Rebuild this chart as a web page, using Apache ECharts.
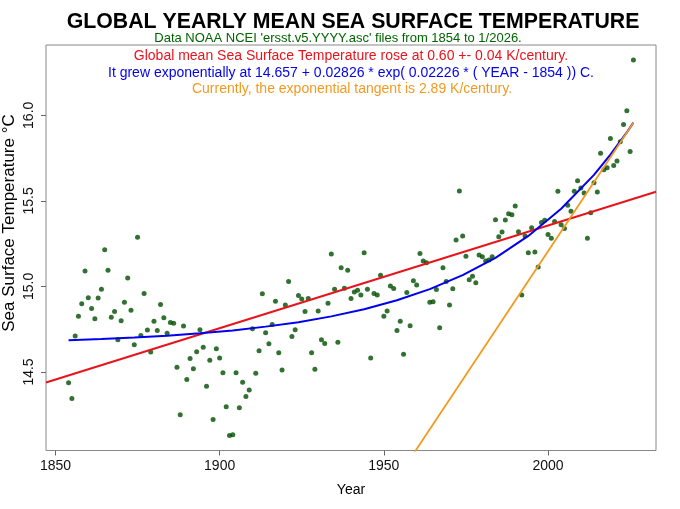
<!DOCTYPE html>
<html>
<head>
<meta charset="utf-8">
<script src="https://cdn.jsdelivr.net/npm/echarts@6/dist/echarts.min.js"></script>
<style>
  html, body { margin: 0; padding: 0; background: #fff; }
  #chart { width: 680px; height: 509px; }
</style>
</head>
<body>
<div id="chart"></div>
<script>
// yearly mean SST, first point is 1854
const firstYear = 1854;
const sst1854 = [14.437, 14.345, 14.710, 14.826, 14.899, 15.090, 14.934, 14.871, 14.811, 14.932,
  14.984, 15.215, 15.094, 14.820, 14.854, 14.688, 14.800, 14.908, 15.049, 14.860,
  14.659, 15.287, 14.713, 14.959, 14.745, 14.616, 14.797, 14.743, 14.895, 14.817,
  14.727, 14.789, 14.784, 14.528, 14.250, 14.768, 14.456, 14.579, 14.519, 14.618,
  14.747, 14.645, 14.417, 14.569, 14.222, 14.636];
const sst1900 = [14.581, 14.495, 14.296, 14.129, 14.133, 14.495, 14.291, 14.440, 14.357, 14.394,
  14.753, 14.493, 14.624, 14.957, 14.729, 14.665, 14.778, 14.914, 14.612, 14.511,
  14.891, 15.029, 14.708, 14.747, 14.947, 14.926, 14.854, 14.930, 14.612, 14.516,
  14.856, 14.688, 14.667, 14.901, 15.189, 14.984, 14.673, 15.109, 14.990, 15.095,
  14.930, 14.967, 14.977, 14.950, 15.197, 14.984, 14.581, 14.959, 14.950, 15.066];
const sst1950 = [14.825, 14.856, 15.002, 14.988, 14.743, 14.797, 14.604, 14.965, 14.770, 15.033,
  15.008, 15.193, 15.148, 15.139, 14.908, 14.911, 14.982, 14.758, 15.109, 15.029,
  14.891, 14.987, 15.271, 15.557, 15.294, 15.177, 15.039, 15.060, 15.022, 15.183,
  15.174, 15.148, 15.154, 15.174, 15.390, 15.290, 15.318, 15.388, 15.425, 15.419,
  15.470, 15.320, 14.950, 15.294, 15.197, 15.343, 15.201, 15.113, 15.374, 15.386];
const sst2000 = [15.304, 15.281, 15.380, 15.556, 15.360, 15.339, 15.474, 15.439, 15.556, 15.618,
  15.575, 15.546, 15.281, 15.431, 15.606, 15.552, 15.778, 15.682, 15.694, 15.865,
  15.706, 15.733, 15.846, 15.947, 16.027, 15.789, 16.323];

// fitted lines
const linearYears = [1847.12, 2032.88];
const linearValues = [14.438, 15.553];
const expYears = [1854, 1864, 1874, 1884, 1894, 1904, 1914, 1924, 1934, 1944,
  1954, 1964, 1974, 1984, 1994, 2004, 2014, 2019, 2024, 2026];
const expValues = [14.685, 14.692, 14.701, 14.712, 14.726, 14.743, 14.765, 14.791, 14.825, 14.867,
  14.919, 14.984, 15.066, 15.167, 15.295, 15.454, 15.652, 15.770, 15.900, 15.957];
const tangentYears = [1950, 2026];
const tangentValues = [13.761, 15.957];

const xTicks = [1850, 1900, 1950, 2000];
const yTicks = [14.5, 15.0, 15.5, 16.0];

const FONT = '"Liberation Sans", Arial, Helvetica, sans-serif';
const C_RED = '#e8141c';
const C_BLUE = '#0000ee';
const C_ORANGE = '#f39a1e';
const C_GREEN = '#006400';

const sst = sst1854.concat(sst1900, sst1950, sst2000);
const points = sst.map((v, i) => [firstYear + i, v]);
const pairs = (xs, ys) => xs.map((x, i) => [x, ys[i]]);

const chart = echarts.init(document.getElementById('chart'), null, { renderer: 'canvas' });

function label(text, x, y, size, color, bold) {
  return {
    type: 'text', x: x, y: y, silent: true,
    style: {
      text: text, fill: color, font: (bold ? 'bold ' : '') + size + 'px ' + FONT,
      textAlign: 'center', textVerticalAlign: 'middle', align: 'center', verticalAlign: 'middle'
    }
  };
}

const yLabel = label('Sea Surface Temperature \u00b0C', 9, 223, 17, '#000', false);
yLabel.rotation = Math.PI / 2;

chart.setOption({
  animation: false,
  backgroundColor: '#fff',
  grid: {
    left: 46, top: 45, width: 610, height: 405.5,
    show: true, borderColor: '#888', borderWidth: 1,
    containLabel: false, outerBoundsMode: 'none'
  },
  xAxis: {
    type: 'value', min: 1847.12, max: 2032.88,
    axisLine: { show: false },
    splitLine: { show: false },
    axisTick: { show: true, length: 5, lineStyle: { color: '#666' }, customValues: xTicks },
    axisLabel: {
      customValues: xTicks, fontSize: 14, color: '#111', margin: 9, fontFamily: FONT,
      formatter: v => String(v)
    }
  },
  yAxis: {
    type: 'value', min: 14.041, max: 16.411,
    axisLine: { show: false },
    splitLine: { show: false },
    axisTick: { show: true, length: 5, lineStyle: { color: '#666' }, customValues: yTicks },
    axisLabel: {
      customValues: yTicks, fontSize: 14, color: '#111', margin: 10, rotate: 90, fontFamily: FONT,
      formatter: v => v.toFixed(1)
    }
  },
  graphic: [
    label('GLOBAL YEARLY MEAN SEA SURFACE TEMPERATURE', 353, 22, 21.3, '#000', true),
    label("Data NOAA NCEI 'ersst.v5.YYYY.asc' files from 1854 to 1/2026.", 338, 38.5, 13, C_GREEN, false),
    label('Global mean Sea Surface Temperature rose at 0.60 +- 0.04 K/century.', 351, 56.5, 14, C_RED, false),
    label('It grew exponentially at 14.657 + 0.02826 * exp( 0.02226 * ( YEAR - 1854 )) C.', 351, 73, 14, C_BLUE, false),
    label('Currently, the exponential tangent is 2.89 K/century.', 352, 89.5, 14, C_ORANGE, false),
    label('Year', 351, 490, 14, '#000', false),
    yLabel
  ],
  series: [
    {
      type: 'scatter', data: points, symbolSize: 5,
      itemStyle: { color: '#004d00' }, silent: true
    },
    {
      type: 'line', data: pairs(linearYears, linearValues), showSymbol: false,
      lineStyle: { color: C_RED, width: 2 }, silent: true
    },
    {
      type: 'line', data: pairs(expYears, expValues), showSymbol: false,
      lineStyle: { color: C_BLUE, width: 2 }, silent: true
    },
    {
      type: 'line', data: pairs(tangentYears, tangentValues), showSymbol: false, clip: true,
      lineStyle: { color: C_ORANGE, width: 1.8 }, silent: true
    }
  ]
});
</script>
</body>
</html>
